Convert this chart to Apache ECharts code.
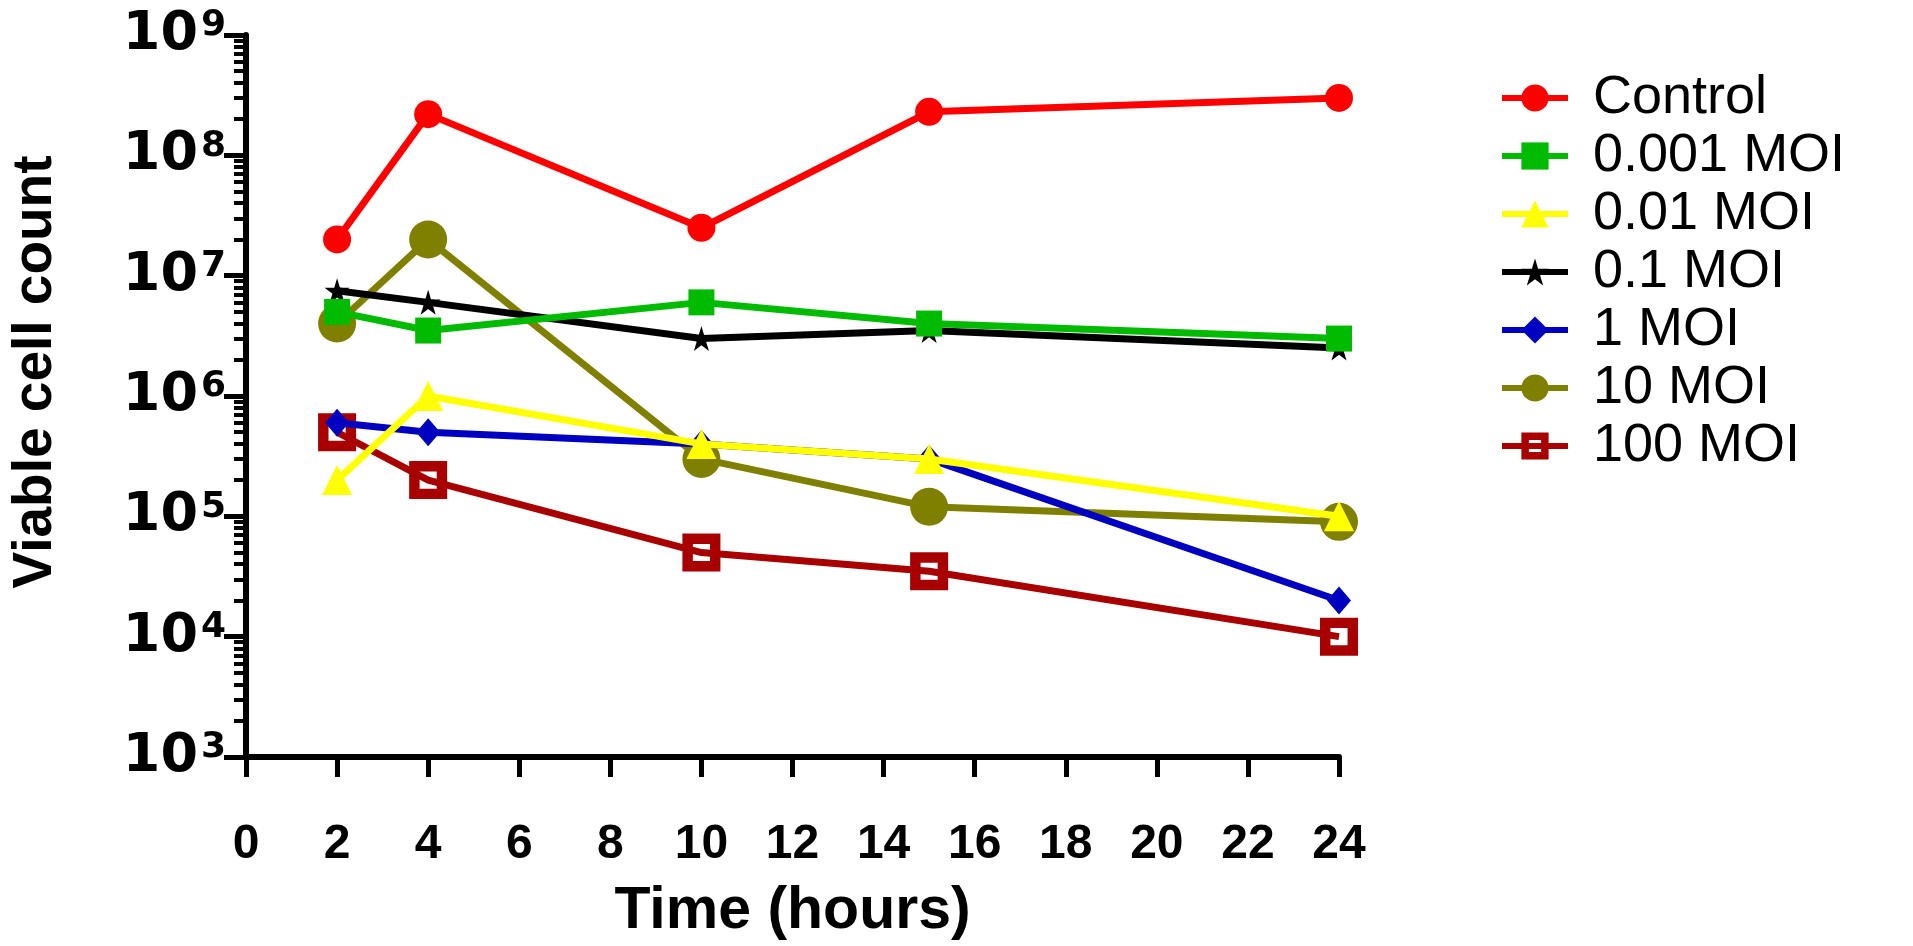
<!DOCTYPE html>
<html>
<head>
<meta charset="utf-8">
<script src="https://cdn.jsdelivr.net/npm/echarts@6/dist/echarts.min.js"></script>
<style>
  html, body { margin: 0; padding: 0; background: #fff; }
  #chart { width: 1913px; height: 946px; }
</style>
</head>
<body>
<div id="chart"></div>
<script>
// hours
const times = [2, 4, 10, 15, 24]
// viable cell counts per group
const control = [2e7, 2.2e8, 2.5e7, 2.3e8, 3e8]
const moi0001 = [5e6, 3.5e6, 6e6, 4e6, 3e6]
const moi001 = [2e5, 1e6, 4e5, 3e5, 1e5]
const moi01 = [7.5e6, 6e6, 3e6, 3.5e6, 2.5e6]
const moi1 = [6e5, 5e5, 4e5, 3e5, 2e4]
const moi10 = [4e6, 2e7, 3e5, 1.2e5, 9e4]
const moi100 = [5e5, 2e5, 5e4, 3.5e4, 1e4]

const seriesNames = ['Control', '0.001 MOI', '0.01 MOI', '0.1 MOI', '1 MOI', '10 MOI', '100 MOI']
// y ticks: decade exponents 3 .. 9, minor ticks at 2..9 x decade
const decadeExps = [3, 4, 5, 6, 7, 8, 9]
const minorSteps = [2, 3, 4, 5, 6, 7, 8, 9]

// minor tick positions in log10 space (for the hidden helper axis)
const minorTicks = []
decadeExps.slice(0, -1).forEach(e => minorSteps.forEach(m => minorTicks.push(e + Math.log10(m))))

const FONT_BOLD = "'Liberation Sans Narrow', 'Liberation Sans', Arial, sans-serif"
const FONT = "'Liberation Sans', Arial, sans-serif"

const STAR = 'path://M50,0L61,35L98,35L68,57L79,91L50,70L21,91L32,57L2,35L39,35Z'
const OPEN_SQ = 'path://M0,0H40V40H0Z M11,11V29H29V11Z'

function pairs(vals) {
  return vals.map((v, i) => [times[i], v])
}

function makeLine(name, vals, color, symbol, size, idx) {
  return {
    type: 'line',
    name: name,
    data: pairs(vals),
    symbol: symbol,
    symbolSize: size,
    clip: false,
    z: 20 - idx, // first series drawn on top, as in the original
    lineStyle: { color: color, width: 7 },
    itemStyle: { color: color },
    emphasis: { disabled: true }
  }
}

const chart = echarts.init(document.getElementById('chart'))

chart.setOption({
  animation: false,
  grid: { left: 220, right: 574, top: 35, bottom: 164 },
  legend: {
    orient: 'vertical',
    left: 1494,
    top: 64,
    itemWidth: 66,
    itemHeight: 34,
    itemGap: 0,
    data: seriesNames,
    lineStyle: { width: 6 },
    textStyle: {
      fontFamily: FONT,
      fontSize: 54,
      lineHeight: 58,
      color: '#000',
      padding: [0, 0, 0, 20]
    }
  },
  xAxis: {
    type: 'value',
    min: 0,
    max: 24,
    interval: 2,
    name: 'Time (hours)',
    nameLocation: 'middle',
    nameGap: 125,
    nameTextStyle: { fontFamily: FONT_BOLD, fontWeight: 'bold', fontSize: 59, color: '#000' },
    axisLine: { lineStyle: { color: '#000', width: 6 } },
    axisTick: { length: 20, lineStyle: { color: '#000', width: 5 } },
    axisLabel: { margin: 64, fontFamily: FONT_BOLD, fontWeight: 'bold', fontSize: 48, color: '#000' },
    splitLine: { show: false }
  },
  yAxis: [{
    type: 'log',
    logBase: 10,
    min: 1e3,
    max: 1e9,
    splitNumber: 6,
    name: 'Viable cell count',
    nameLocation: 'middle',
    nameGap: 183,
    nameTextStyle: { fontFamily: FONT_BOLD, fontWeight: 'bold', fontSize: 55, color: '#000', padding: [0, 0, 0, 48] },
    axisLine: { lineStyle: { color: '#000', width: 6 } },
    axisTick: { length: 22, lineStyle: { color: '#000', width: 5 } },
    axisLabel: {
      margin: 20,
      formatter: v => '{b|10}{e|' + Math.round(Math.log10(v)) + '}',
      rich: {
        b: { fontFamily: "'DejaVu Sans', sans-serif", fontWeight: 'bold', fontSize: 54, lineHeight: 54, color: '#000' },
        e: { fontFamily: "'DejaVu Sans', sans-serif", fontWeight: 'bold', fontSize: 36, lineHeight: 36, verticalAlign: 'top', padding: [0, 0, 0, 3], color: '#000' }
      }
    },
    splitLine: { show: false }
  }, {
    // helper axis in log10 units, only draws the minor ticks
    type: 'value',
    min: 3,
    max: 9,
    position: 'left',
    axisLine: { show: false },
    axisLabel: { show: false },
    axisTick: { show: true, length: 12, customValues: minorTicks, lineStyle: { color: '#000', width: 4 } },
    splitLine: { show: false }
  }],
  series: [
    makeLine(seriesNames[0], control, '#FF0000', 'circle', 28, 0),
    makeLine(seriesNames[1], moi0001, '#00BB00', 'rect', 26, 1),
    makeLine(seriesNames[2], moi001, '#FFFF00', 'triangle', 30, 2),
    makeLine(seriesNames[3], moi01, '#000000', STAR, 25, 3),
    makeLine(seriesNames[4], moi1, '#0000C0', 'diamond', [24, 28], 4),
    makeLine(seriesNames[5], moi10, '#808000', 'circle', 38, 5),
    makeLine(seriesNames[6], moi100, '#A80000', OPEN_SQ, 38, 6)
  ]
})
</script>
</body>
</html>
